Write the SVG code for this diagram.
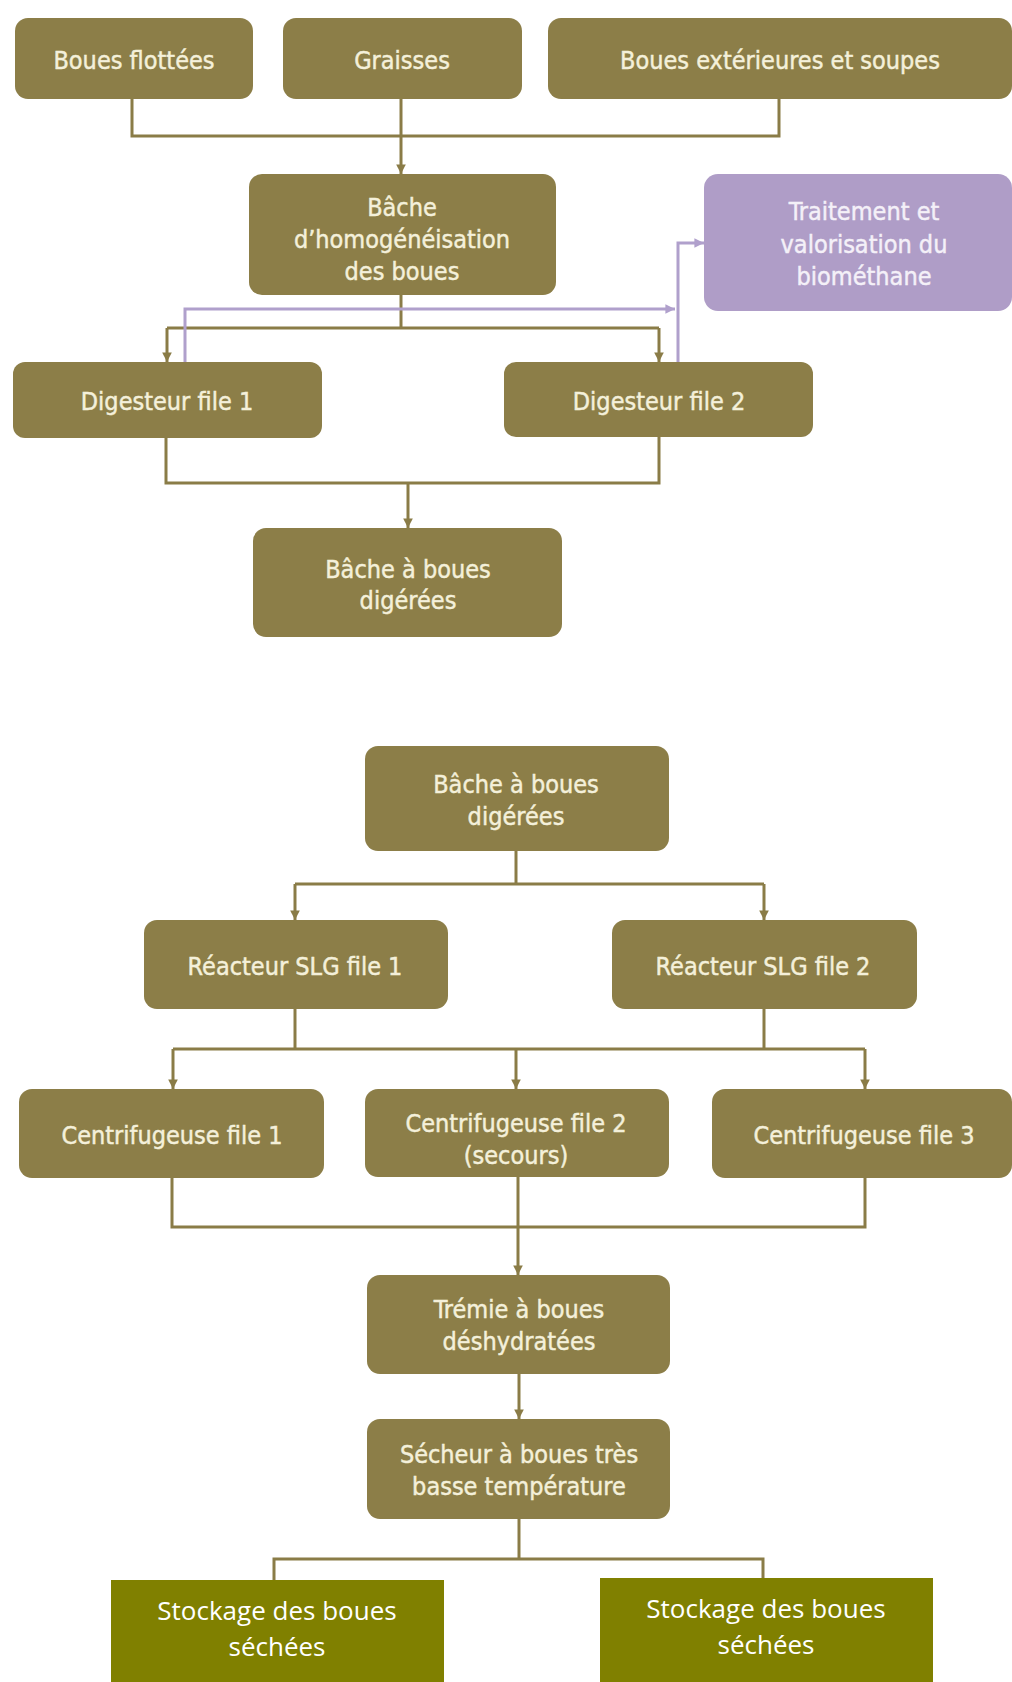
<svg xmlns="http://www.w3.org/2000/svg" width="1012" height="1682" viewBox="0 0 1012 1682">
<style>
.b{fill:#8C7E48}
.p{fill:#AF9DC7}
.s{fill:#808000}
.t{font-family:"DejaVu Sans Condensed","Liberation Sans",Arial,sans-serif;font-stretch:condensed;font-size:25px;fill:#F4F0DA;text-anchor:middle;stroke:#F4F0DA;stroke-width:0.45}
.tp{font-family:"DejaVu Sans Condensed","Liberation Sans",Arial,sans-serif;font-stretch:condensed;font-size:25px;fill:#F4F0F8;text-anchor:middle;stroke:#F4F0F8;stroke-width:0.45}
.ts{font-family:"Open Sans","Liberation Sans",Arial,sans-serif;font-size:26px;fill:#FFFFFF;text-anchor:middle}
.c{fill:none;stroke:#8A7C47;stroke-width:3}
.cp{fill:none;stroke:#B0A0CC;stroke-width:3}
</style>
<defs>
<marker id="a" viewBox="0 0 10 10" refX="10" refY="5" markerWidth="3.2" markerHeight="3.2" orient="auto" markerUnits="strokeWidth"><path d="M0,0 L10,5 L0,10 z" fill="#8A7C47"/></marker>
<marker id="ap" viewBox="0 0 10 10" refX="10" refY="5" markerWidth="3.2" markerHeight="3.2" orient="auto" markerUnits="strokeWidth"><path d="M0,0 L10,5 L0,10 z" fill="#B0A0CC"/></marker>
</defs>
<rect width="1012" height="1682" fill="#FFFFFF"/>
<g id="connectors">
<path class="c" d="M132,99 V136 H779 V99"/>
<path class="c" d="M401,99 V174" marker-end="url(#a)"/>
<path class="c" d="M401,295 V328"/>
<path class="c" d="M167,328 H659"/>
<path class="c" d="M167,328 V362" marker-end="url(#a)"/>
<path class="c" d="M659,328 V362" marker-end="url(#a)"/>
<path class="cp" d="M185,362 V309 H675" marker-end="url(#ap)"/>
<path class="cp" d="M678,362 V243 H704" marker-end="url(#ap)"/>
<path class="c" d="M166,438 V483 H659 V437"/>
<path class="c" d="M408,483 V528" marker-end="url(#a)"/>
<path class="c" d="M516,851 V884"/>
<path class="c" d="M295,884 H764"/>
<path class="c" d="M295,884 V920" marker-end="url(#a)"/>
<path class="c" d="M764,884 V920" marker-end="url(#a)"/>
<path class="c" d="M295,1009 V1049"/>
<path class="c" d="M764,1009 V1049"/>
<path class="c" d="M173,1049 H865"/>
<path class="c" d="M173,1049 V1089" marker-end="url(#a)"/>
<path class="c" d="M516,1049 V1089" marker-end="url(#a)"/>
<path class="c" d="M865,1049 V1089" marker-end="url(#a)"/>
<path class="c" d="M172,1178 V1227 H865 V1178"/>
<path class="c" d="M518,1177 V1275" marker-end="url(#a)"/>
<path class="c" d="M519,1374 V1419" marker-end="url(#a)"/>
<path class="c" d="M519,1519 V1559"/>
<path class="c" d="M274,1580 V1559 H763 V1578"/>
</g>
<g id="n1"><rect class="b" x="15" y="18" width="238" height="81" rx="13"/><text class="t" x="134" y="69">Boues flottées</text></g>
<g id="n2"><rect class="b" x="283" y="18" width="239" height="81" rx="13"/><text class="t" x="402" y="69">Graisses</text></g>
<g id="n3"><rect class="b" x="548" y="18" width="464" height="81" rx="13"/><text class="t" x="780" y="69">Boues extérieures et soupes</text></g>
<g id="n4"><rect class="b" x="249" y="174" width="307" height="121" rx="13"/><text class="t" x="402" y="216">Bâche</text><text class="t" x="402" y="248">d’homogénéisation</text><text class="t" x="402" y="280">des boues</text></g>
<g id="n5"><rect class="p" x="704" y="174" width="308" height="137" rx="14"/><text class="tp" x="864" y="220">Traitement et</text><text class="tp" x="864" y="253">valorisation du</text><text class="tp" x="864" y="285">biométhane</text></g>
<g id="n6"><rect class="b" x="13" y="362" width="309" height="76" rx="12"/><text class="t" x="167" y="410">Digesteur file 1</text></g>
<g id="n7"><rect class="b" x="504" y="362" width="309" height="75" rx="12"/><text class="t" x="659" y="410">Digesteur file 2</text></g>
<g id="n8"><rect class="b" x="253" y="528" width="309" height="109" rx="13"/><text class="t" x="408" y="578">Bâche à boues</text><text class="t" x="408" y="609">digérées</text></g>
<g id="n9"><rect class="b" x="365" y="746" width="304" height="105" rx="13"/><text class="t" x="516" y="793">Bâche à boues</text><text class="t" x="516" y="825">digérées</text></g>
<g id="n10"><rect class="b" x="144" y="920" width="304" height="89" rx="13"/><text class="t" x="295" y="975">Réacteur SLG file 1</text></g>
<g id="n11"><rect class="b" x="612" y="920" width="305" height="89" rx="13"/><text class="t" x="763" y="975">Réacteur SLG file 2</text></g>
<g id="n12"><rect class="b" x="19" y="1089" width="305" height="89" rx="13"/><text class="t" x="172" y="1144">Centrifugeuse file 1</text></g>
<g id="n13"><rect class="b" x="365" y="1089" width="304" height="88" rx="13"/><text class="t" x="516" y="1132">Centrifugeuse file 2</text><text class="t" x="516" y="1164">(secours)</text></g>
<g id="n14"><rect class="b" x="712" y="1089" width="300" height="89" rx="13"/><text class="t" x="864" y="1144">Centrifugeuse file 3</text></g>
<g id="n15"><rect class="b" x="367" y="1275" width="303" height="99" rx="13"/><text class="t" x="519" y="1318">Trémie à boues</text><text class="t" x="519" y="1350">déshydratées</text></g>
<g id="n16"><rect class="b" x="367" y="1419" width="303" height="100" rx="13"/><text class="t" x="519" y="1463">Sécheur à boues très</text><text class="t" x="519" y="1495">basse température</text></g>
<g id="n17"><rect class="s" x="111" y="1580" width="333" height="102"/><text class="ts" x="277" y="1620">Stockage des boues</text><text class="ts" x="277" y="1656">séchées</text></g>
<g id="n18"><rect class="s" x="600" y="1578" width="333" height="104"/><text class="ts" x="766" y="1618">Stockage des boues</text><text class="ts" x="766" y="1654">séchées</text></g>
</svg>
